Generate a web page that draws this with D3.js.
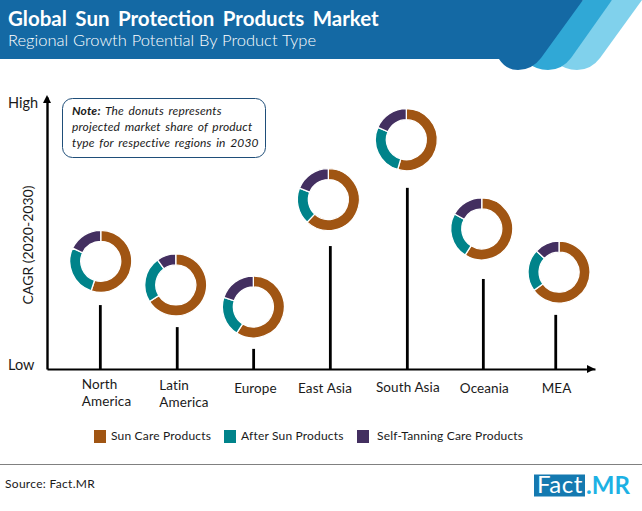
<!DOCTYPE html>
<html>
<head>
<meta charset="utf-8">
<script src="https://cdn.jsdelivr.net/npm/d3@7"></script>
<style>
html,body{margin:0;padding:0;background:#fff}
svg{display:block}
text{font-family:Lato,"Open Sans",sans-serif;fill:#1a1a1a}
</style>
</head>
<body>
<svg id="c" width="642" height="511"></svg>
<script>
const regions = ["North America","Latin America","Europe","East Asia","South Asia","Oceania","MEA"];
const cagrLevel = [23.5,15.4,7.4,45.2,66.6,33.1,19.9];
const donutLevel = [39.6,30.9,22.8,62.3,84.3,51.5,35.6];
const sunCare = [55,66,59,62,54.5,59,65];
const afterSun = [27,24,21,19,27,24,22];
const selfTanning = [18,10,20,19,18.5,17,13];
const products = ["Sun Care Products","After Sun Products","Self-Tanning Care Products"];
const productColors = ["#A05513","#00838A","#432F60"];
const yEnds = ["Low","High"];

const svg = d3.select("#c");

// header
svg.append("path").attr("fill","#80D1EC").attr("d","M612,0H642L600,58Q591,70 577,70Q565,70 556,62L560,40Z");
svg.append("path").attr("fill","#30A8D6").attr("d","M583,0H612L571,58Q562,70 548,70Q536,70 527,62L530,40Z");
svg.append("path").attr("fill","#1469A4").attr("d","M0,0H583L541,58Q532,70 518,70Q506,70 499,59H0Z");
svg.append("text").attr("x",8).attr("y",26).attr("font-size",20.5).attr("font-weight",700)
  .attr("word-spacing",3.5).style("fill","#fff").text("Global Sun Protection Products Market");
svg.append("text").attr("x",8).attr("y",46).attr("font-size",16.5).attr("font-weight",300)
  .attr("word-spacing",0.4).style("fill","#fff").text("Regional Growth Potential By Product Type");

// scales
const x = d3.scalePoint().domain(regions).range([47,595]).padding(0.61).align(0.576);
const y = d3.scaleLinear().domain([0,100]).range([369,97]);
const stemNudge = [0,1,1.5,2.3,3.4,3.5,0];
const donutNudge = [0.4,-0.5,1.2,0.3,2.4,1.9,3.3];

// stems
const g = svg.append("g");
g.selectAll("line.stem").data(regions).join("line").attr("class","stem")
  .attr("x1",(d,i)=>x(d)+stemNudge[i]).attr("x2",(d,i)=>x(d)+stemNudge[i])
  .attr("y1",y(0)).attr("y2",(d,i)=>y(cagrLevel[i]))
  .attr("stroke","#000").attr("stroke-width",2.8);

// axes
const xAxis = svg.append("g").attr("transform",`translate(0,${y(0)})`)
  .call(d3.axisBottom(x).tickSize(0).tickSizeOuter(0));
xAxis.select(".domain").attr("stroke","#000").attr("stroke-width",2.2);
xAxis.selectAll("text").remove();
const yAxis = svg.append("g").attr("transform","translate(47,0)")
  .call(d3.axisLeft(y).tickValues(y.domain()).tickFormat((d,i)=>yEnds[i]).tickSize(0).tickSizeOuter(0));
yAxis.select(".domain").attr("stroke","#000").attr("stroke-width",2.4);
yAxis.selectAll("text").attr("x",-39).attr("text-anchor","start").attr("font-size",14.5)
  .attr("font-family","Lato").style("fill","#1a1a1a")
  .attr("dy",(d,i)=>i===0?"-0.0em":"0.72em");
svg.append("path").attr("fill","#000").attr("d","M47,95L51,103H43Z");
svg.append("path").attr("fill","#000").attr("d","M595,369L587,365V373Z");

svg.append("text").attr("transform","translate(33,245) rotate(-90)").attr("text-anchor","middle")
  .attr("font-size",14).text("CAGR (2020-2030)");

// region labels
const labelLines = [["North","America"],["Latin","America"],["Europe"],["East Asia"],["South Asia"],["Oceania"],["MEA"]];
const labelNudge = [-18.5,-17,-18,-30,-28,-20,-14];
const labelBase = [389,390,393,393,392,393,393];
const lab = svg.append("g").selectAll("text").data(regions).join("text")
  .attr("font-size",13.5).attr("letter-spacing",0.1)
  .attr("transform",(d,i)=>`translate(${x(d)+labelNudge[i]},${labelBase[i]})`);
lab.selectAll("tspan").data((d,i)=>labelLines[i]).join("tspan")
  .attr("x",0).attr("dy",(d,i)=>i?17:0).text(d=>d);

// donuts
const pie = d3.pie().sort(null).value(d=>d);
const arc = d3.arc().innerRadius(20).outerRadius(31);
regions.forEach((r,i)=>{
  const cell = svg.append("g").attr("transform",`translate(${x(r)+donutNudge[i]},${y(donutLevel[i])})`);
  cell.selectAll("path").data(pie([sunCare[i],afterSun[i],selfTanning[i]])).join("path")
    .attr("d",arc).attr("fill",(d,j)=>productColors[j]).attr("stroke","#fff").attr("stroke-width",1.3);
});

// note
svg.append("rect").attr("x",62.5).attr("y",98.5).attr("width",203).attr("height",59).attr("rx",10)
  .attr("fill","#fff").attr("stroke","#1F4E79").attr("stroke-width",1);
const note = svg.append("text").attr("font-size",12).attr("font-style","italic").attr("word-spacing",1.6).attr("letter-spacing",0.17);
note.append("tspan").attr("x",72).attr("y",115).attr("font-weight",700).text("Note:");
note.append("tspan").text(" The donuts represents");
note.append("tspan").attr("x",72).attr("y",131).text("projected market share of product");
note.append("tspan").attr("x",72).attr("y",147).text("type for respective regions in 2030");

// legend
const legendSwatch = [94,224,357];
const leg = svg.append("g").selectAll("g").data(products).join("g")
  .attr("transform",(d,i)=>`translate(${legendSwatch[i]},430)`);
leg.append("rect").attr("width",12).attr("height",13).attr("fill",(d,i)=>productColors[i]);
leg.append("text").attr("x",(d,i)=>i==2?20:17).attr("y",9.7).attr("font-size",12).attr("letter-spacing",0.18).text(d=>d);

// footer
svg.append("line").attr("x1",0).attr("x2",642).attr("y1",464.5).attr("y2",464.5).attr("stroke","#808080").attr("stroke-width",1.2);
svg.append("text").attr("x",5).attr("y",488).attr("font-size",12).attr("letter-spacing",0.3).text("Source: Fact.MR");
svg.append("rect").attr("x",534).attr("y",474.5).attr("width",51).attr("height",22).attr("fill","#1479B0");
svg.append("text").attr("x",537).attr("y",493).attr("font-size",24).attr("letter-spacing",0.5).style("fill","#fff").text("Fact");
svg.append("text").attr("x",586).attr("y",494).attr("font-size",24).attr("font-weight",700).style("fill","#1DB1E4").text(".MR");
</script>
</body>
</html>
